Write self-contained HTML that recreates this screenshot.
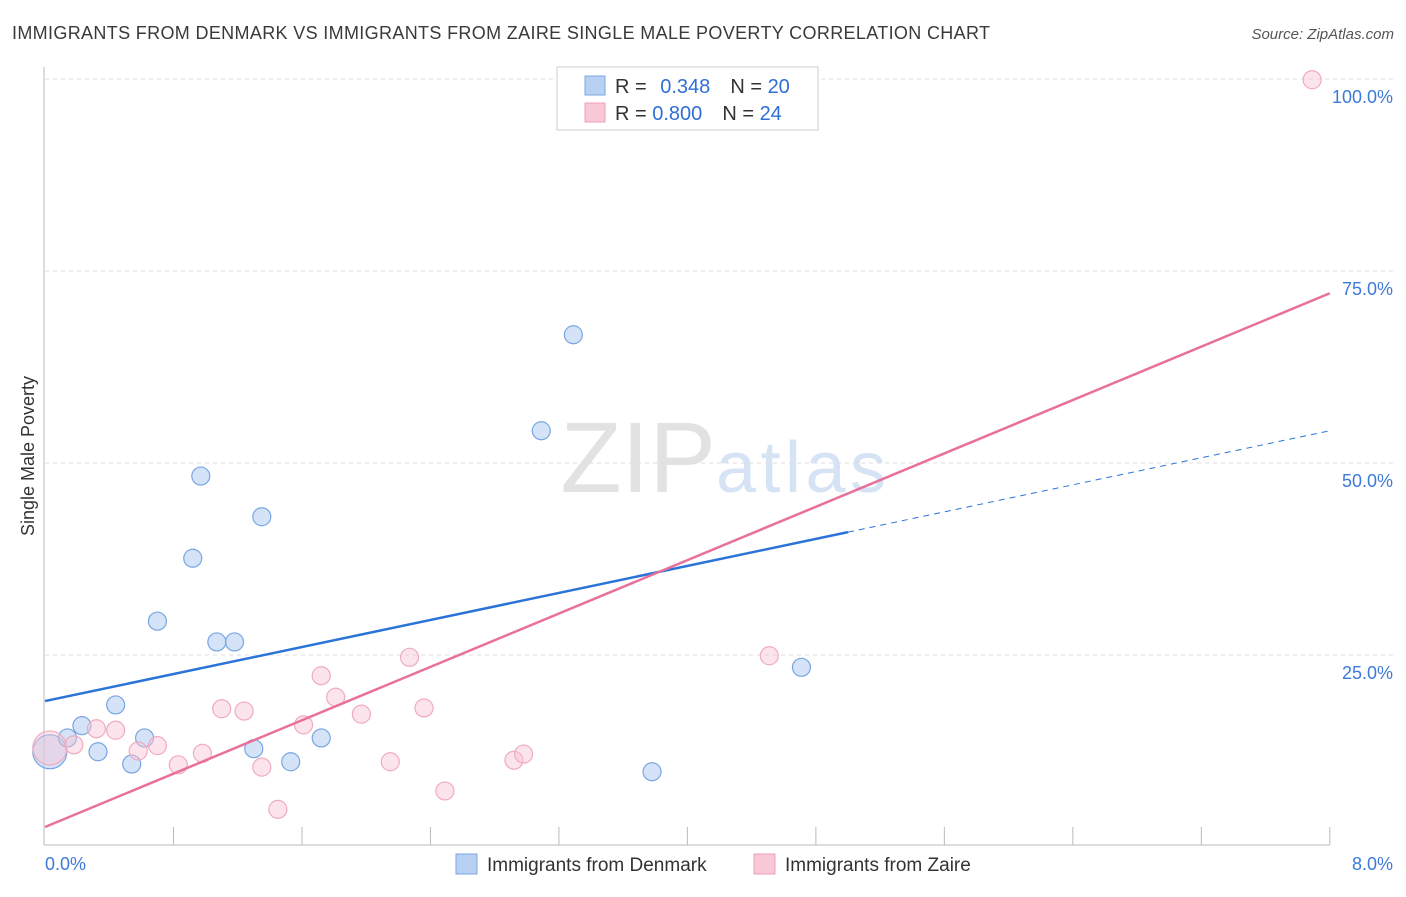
<!DOCTYPE html>
<html><head><meta charset="utf-8"><style>
body{margin:0;background:#fff;font-family:"Liberation Sans",sans-serif;}
svg text{font-family:"Liberation Sans",sans-serif;}
</style></head><body>
<svg id="c" width="1406" height="892">
<text x="12" y="39" font-size="18" fill="#3a3a3a" textLength="978" lengthAdjust="spacing">IMMIGRANTS FROM DENMARK VS IMMIGRANTS FROM ZAIRE SINGLE MALE POVERTY CORRELATION CHART</text>
<text x="1394" y="39" font-size="15" fill="#555" font-style="italic" text-anchor="end">Source: ZipAtlas.com</text>
<text x="716" y="492" font-size="100" fill="#e2e2e2" text-anchor="end" font-family="Liberation Serif">ZIP</text>
<text x="716" y="492" font-size="72" fill="#d6e3f4" textLength="170">atlas</text>
<text transform="translate(34,456) rotate(-90)" font-size="18" fill="#333" text-anchor="middle">Single Male Poverty</text>
<g id="grid"></g><g id="marks"></g>
<rect x="557" y="67" width="261" height="63" fill="#fff" stroke="#ccc"/>
<rect x="585" y="76" width="20" height="19" fill="#b8d1f3" stroke="#7aa6e6"/>
<rect x="585" y="103" width="20" height="19" fill="#f9c8d6" stroke="#eda0b8"/>
<text x="615" y="93" font-size="20" fill="#333">R = <tspan fill="#2f6fd6" dx="8">0.348</tspan><tspan dx="20" fill="#333">N = </tspan><tspan fill="#2f6fd6">20</tspan></text>
<text x="615" y="120" font-size="20" fill="#333">R = <tspan fill="#2f6fd6">0.800</tspan><tspan dx="20" fill="#333">N = </tspan><tspan fill="#2f6fd6">24</tspan></text>
<rect x="456" y="854" width="21" height="20" fill="#b8d1f3" stroke="#7aa6e6"/>
<text x="487" y="871" font-size="19" fill="#333">Immigrants from Denmark</text>
<rect x="754" y="854" width="21" height="20" fill="#f9c8d6" stroke="#eda0b8"/>
<text x="785" y="871" font-size="19" fill="#333">Immigrants from Zaire</text>
</svg>
<script>
const xTickLabels=["0.0%","8.0%"];
const yTicks=[25,50,75,100];
const yTickLabels=["25.0%","50.0%","75.0%","100.0%"];
const denmarkX=[0.03,0.14,0.23,0.33,0.44,0.54,0.62,0.70,0.92,0.97,1.07,1.18,1.30,1.35,1.53,1.72,3.09,3.29,3.78,4.71];
const denmarkY=[12.4,14.2,15.8,12.4,18.5,10.8,14.2,29.4,37.6,48.3,26.7,26.7,12.8,43.0,11.1,14.2,54.2,66.7,9.8,23.4];
const zaireX=[0.03,0.18,0.32,0.44,0.58,0.70,0.83,0.98,1.10,1.24,1.35,1.45,1.61,1.72,1.81,1.97,2.15,2.27,2.36,2.49,2.92,2.98,4.51,7.89];
const zaireY=[12.9,13.3,15.4,15.2,12.5,13.2,10.7,12.2,18.0,17.7,10.4,4.9,15.9,22.3,19.5,17.3,11.1,24.7,18.1,7.3,11.3,12.1,24.9,99.9];
const denmarkTrend=[19.0,54.2]; // at x=0 and x=8
const denmarkSolidEnd=5.0;
const zaireTrend=[2.6,72.1];
const sx=v=>45+v*160.6, sy=v=>847-v*7.68;
const NS="http://www.w3.org/2000/svg";
const grid=document.getElementById('grid'), marks=document.getElementById('marks');
function mk(p,tag,a){const e=document.createElementNS(NS,tag);for(const k in a)e.setAttribute(k,a[k]);p.appendChild(e);return e;}
yTicks.forEach((t,i)=>{
 const g=mk(grid,'line',{x1:45,x2:1393,y1:sy(t),y2:sy(t),stroke:'#ddd','stroke-dasharray':'4,4'});
 
 
 const l=mk(grid,'text',{x:1393,y:sy(t)+24,'font-size':18,fill:'#3d7ad8','text-anchor':'end'});l.textContent=yTickLabels[i];
 
 
});
let a=mk(grid,'line',{x1:44,x2:44,y1:67,y2:845,stroke:'#bbb'});


a=mk(grid,'line',{x1:44,x2:1330,y1:845,y2:845,stroke:'#bbb'});


for(let i=1;i<=10;i++){const t=mk(grid,'line',{x1:sx(i*0.8),x2:sx(i*0.8),y1:827,y2:845,stroke:'#bbb'});
 
 }
[[0,'start',45],[1,'end',1393]].forEach(([i,anc,x])=>{const l=mk(grid,'text',{x:x,y:870,'font-size':18,fill:'#3d7ad8','text-anchor':anc});l.textContent=xTickLabels[i];
 
 });
function pts(X,Y,fill,stroke,name){X.forEach((x,i)=>{const r=i===0&&x<0.1?17:9;
 const c=mk(marks,'circle',{cx:sx(x),cy:sy(Y[i]),r:r,fill:fill,stroke:stroke,'stroke-width':1.2});
 
 });}
pts(denmarkX,denmarkY,'rgba(170,200,240,0.5)','#78a6e2','point-denmark');
pts(zaireX,zaireY,'rgba(248,195,212,0.45)','#efabc0','point-zaire');
const lin=(t,x)=>t[0]+(t[1]-t[0])*x/8;
let L=mk(marks,'line',{x1:sx(0),y1:sy(lin(denmarkTrend,0)),x2:sx(denmarkSolidEnd),y2:sy(lin(denmarkTrend,denmarkSolidEnd)),stroke:'#2a74d8','stroke-width':2.5});


L=mk(marks,'line',{x1:sx(denmarkSolidEnd),y1:sy(lin(denmarkTrend,denmarkSolidEnd)),x2:sx(8),y2:sy(lin(denmarkTrend,8)),stroke:'#2a74d8','stroke-width':1,'stroke-dasharray':'6,5'});


L=mk(marks,'line',{x1:sx(0),y1:sy(lin(zaireTrend,0)),x2:sx(8),y2:sy(lin(zaireTrend,8)),stroke:'#e8709a','stroke-width':2.5});


</script>
</body></html>
